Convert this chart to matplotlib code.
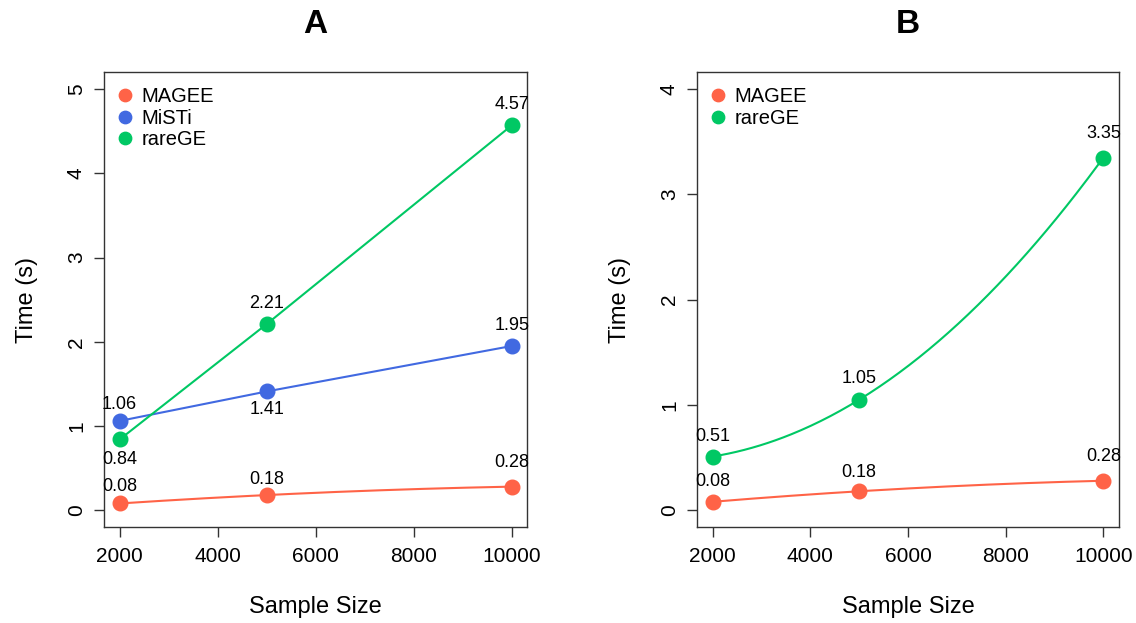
import numpy as np
import matplotlib.pyplot as plt

plt.rcParams["font.family"] = ["Liberation Sans", "DejaVu Sans"]

sample_size = [2000, 5000, 10000]

# panel A
magee_a = [0.08, 0.18, 0.28]
misti_a = [1.06, 1.41, 1.95]
rarege_a = [0.84, 2.21, 4.57]

# panel B
magee_b = [0.08, 0.18, 0.28]
rarege_b = [0.51, 1.05, 3.35]

colors = {"MAGEE": "#FF6347", "MiSTi": "#4169E1", "rareGE": "#00C864"}

PX = 72 / 100  # pixels -> points


def smooth(x, y):
    # quadratic through the three points, used only to draw the curve
    c = np.polyfit(x, y, 2)
    xs = np.linspace(min(x), max(x), 200)
    return xs, np.polyval(c, xs)


def draw_series(ax, x, y, name, offsets, curved=True):
    col = colors[name]
    if curved:
        xs, ys = smooth(x, y)
        ax.plot(xs, ys, color=col, linewidth=1.5, zorder=2)
    else:
        ax.plot(x, y, color=col, linewidth=1.5, zorder=2)
    ax.plot(x, y, "o", color=col, markersize=10.5, zorder=3, label=name)
    for xi, yi, off in zip(x, y, offsets):
        ax.annotate(f"{yi:.2f}", (xi, yi), xytext=(0, off * PX),
                    textcoords="offset points", ha="center", va="center",
                    fontsize=13)


def style_axes(ax, title, ylim, yticks):
    ax.set_xlim(1680, 10320)
    ax.set_ylim(ylim)
    ax.set_xticks([2000, 4000, 6000, 8000, 10000])
    ax.set_yticks(yticks)
    ax.set_yticklabels([str(t) for t in yticks], rotation=90, va="center")
    ax.tick_params(direction="out", length=7, width=1, labelsize=15,
                   color="#333333")
    ax.tick_params(axis="x", pad=7)
    ax.tick_params(axis="y", pad=6)
    for s in ax.spines.values():
        s.set_color("#333333")
        s.set_linewidth(1)
    ax.set_xlabel("Sample Size", fontsize=17, labelpad=22)
    ax.set_ylabel("Time (s)", fontsize=17, labelpad=21)
    ax.set_title(title, fontsize=24, fontweight="bold", pad=28)
    ax.legend(loc="upper left", bbox_to_anchor=(-0.014, 1.0), frameon=False,
              fontsize=14.5, handletextpad=0.2, borderaxespad=0.35,
              labelspacing=0.12, markerscale=0.85, handlelength=1.2)


fig = plt.figure(figsize=(11.36, 6.23), dpi=100)
ax1 = fig.add_axes([0.0915, 0.154, 0.3728, 0.730])
ax2 = fig.add_axes([0.6136, 0.154, 0.3715, 0.730])

draw_series(ax1, sample_size, magee_a, "MAGEE", [17, 16, 24])
draw_series(ax1, sample_size, misti_a, "MiSTi", [16, -18, 20], curved=False)
draw_series(ax1, sample_size, rarege_a, "rareGE", [-20, 21, 21], curved=False)
style_axes(ax1, "A", (-0.2, 5.2), [0, 1, 2, 3, 4, 5])

draw_series(ax2, sample_size, magee_b, "MAGEE", [20, 19, 24])
draw_series(ax2, sample_size, rarege_b, "rareGE", [20, 21, 24])
style_axes(ax2, "B", (-0.16, 4.16), [0, 1, 2, 3, 4])

fig.savefig("out.png", dpi=100)
